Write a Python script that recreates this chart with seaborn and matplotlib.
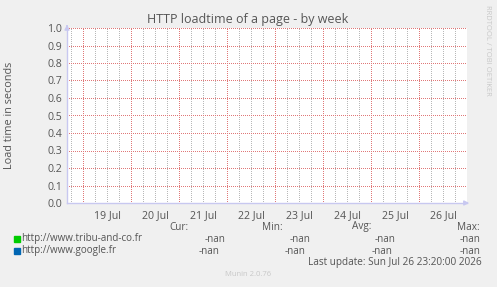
import numpy as np
import pandas as pd
import matplotlib
matplotlib.use("Agg")
import matplotlib.pyplot as plt
from matplotlib.ticker import FuncFormatter, MultipleLocator, FixedLocator
import seaborn as sns

# ---- data (all values are NaN in the reference) ----
start = pd.Timestamp("2026-07-18 16:00")
end = pd.Timestamp("2026-07-27 00:00")
times = pd.date_range(start, end, freq="30min")
series_names = ["http://www.tribu-and-co.fr", "http://www.google.fr"]
series_colors = ["#00cc00", "#0066b3"]
tribu_values = [np.nan] * len(times)
google_values = [np.nan] * len(times)
stats_headers = ["Cur:", "Min:", "Avg:", "Max:"]
tribu_stats = ["-nan", "-nan", "-nan", "-nan"]
google_stats = ["-nan", "-nan", "-nan", "-nan"]

hours = [(t - start) / pd.Timedelta(hours=1) for t in times]
df = pd.DataFrame({
    "hours": hours * 2,
    "value": tribu_values + google_values,
    "series": [series_names[0]] * len(times) + [series_names[1]] * len(times),
})

sns.set_style("white")
plt.rcParams["font.family"] = ["Open Sans", "DejaVu Sans"]

W, H = 497, 287
fig = plt.figure(figsize=(W / 100, H / 100), dpi=100, facecolor="#f0f0f0")
ax = fig.add_axes([67 / W, (H - 203) / H, 400 / W, 175 / H])
ax.set_facecolor("white")

txt = "#555555"
red_grid = "#e07878"
gray_grid = "#b8b8b8"
px = 0.72  # one pixel in points

sns.lineplot(data=df.dropna(), x="hours", y="value", hue="series",
             hue_order=series_names, palette=series_colors, ax=ax, legend=False)

total_h = (end - start) / pd.Timedelta(hours=1)
ax.set_xlim(0, total_h)
ax.set_ylim(0, 1.0)
ax.set_xlabel("")
ax.set_ylabel("")

# y axis
ax.yaxis.set_major_locator(MultipleLocator(0.1))
ax.yaxis.set_major_formatter(FuncFormatter(lambda v, p: f"{v:.1f}"))
ax.tick_params(axis="y", which="major", length=3, width=0.8, color="#e09090",
               labelsize=7.6, labelcolor=txt, pad=2, direction="inout")

# x axis: day boundaries (major, red) and 6-hour steps (minor, gray)
def to_h(ts):
    return [(t - start) / pd.Timedelta(hours=1) for t in ts]
day_ticks = pd.date_range("2026-07-19", "2026-07-27", freq="D")
quarter_ticks = [t for t in pd.date_range("2026-07-18 18:00", end, freq="6h") if t.hour != 0]
ax.xaxis.set_major_locator(FixedLocator(to_h(day_ticks)))
ax.xaxis.set_major_formatter(FuncFormatter(lambda v, p: ""))
ax.xaxis.set_minor_locator(FixedLocator(to_h(quarter_ticks)))
def minor_fmt(v, p):
    t = start + pd.Timedelta(hours=v)
    return f"{t.day} Jul" if t.hour == 12 else ""
ax.xaxis.set_minor_formatter(FuncFormatter(minor_fmt))
ax.tick_params(axis="x", which="major", length=3, width=0.8, color="#e09090", direction="inout")
ax.tick_params(axis="x", which="minor", length=2, width=0.6, color=gray_grid,
               labelsize=7.6, labelcolor=txt, pad=4, direction="inout")

ax.grid(True, axis="x", which="minor", color=gray_grid, linestyle=(0, (1, 2)),
        linewidth=px, antialiased=False)
ax.grid(True, axis="x", which="major", color=red_grid, linestyle=(0, (1, 2)),
        linewidth=px, antialiased=False)
ax.grid(True, axis="y", which="major", color=red_grid, linestyle=(0, (1, 2)),
        linewidth=px, antialiased=False)
ax.set_axisbelow(True)

for s in ["top", "right"]:
    ax.spines[s].set_visible(False)
for s in ["left", "bottom"]:
    ax.spines[s].set_color("#c8c8f0")
    ax.spines[s].set_linewidth(1.0)

# axis arrows
ax.annotate("", xy=(1.0125, 0), xytext=(0.99, 0), xycoords="axes fraction",
            arrowprops=dict(arrowstyle="-|>", color="#c8c8f0", lw=1.0, mutation_scale=7))
ax.annotate("", xy=(0, 1.035), xytext=(0, 0.99), xycoords="axes fraction",
            arrowprops=dict(arrowstyle="-|>", color="#c8c8f0", lw=1.0, mutation_scale=7))

def ft(x, y, s, **kw):
    fig.text(x / W, 1 - y / H, s, **kw)

ft(248, 20, "HTTP loadtime of a page - by week", ha="center", va="center", fontsize=9, color=txt)
ft(10, 115, "Load time in seconds", ha="center", va="center", rotation=90, fontsize=7.8, color=txt)
ft(488, 50, "RRDTOOL / TOBI OETIKER", ha="center", va="center", rotation=270, fontsize=5.5, color="#c8c8c8")

# legend block
hdr_x = [188, 283, 371, 480]
for hx, h in zip(hdr_x, stats_headers):
    ft(hx, 227, h, ha="right", va="center", fontsize=7.2, color=txt)

rows = [(239, tribu_stats, [225, 310, 395, 480]), (251, google_stats, [219, 305, 392, 480])]
for (ry, stats, xs), name, col in zip(rows, series_names, series_colors):
    fig.patches.append(plt.Rectangle((14 / W, 1 - (ry + 3) / H), 6 / W, 6 / H,
                                     transform=fig.transFigure, color=col))
    ft(21, ry, name, ha="left", va="center", fontsize=7.1, color=txt)
    for sx, sv in zip(xs, stats):
        ft(sx, ry, sv, ha="right", va="center", fontsize=7.1, color=txt)

ft(482, 263, "Last update: Sun Jul 26 23:20:00 2026", ha="right", va="center", fontsize=7.2, color=txt)
ft(248, 275, "Munin 2.0.76", ha="center", va="center", fontsize=5.5, color="#c8c8c8")

fig.savefig("out.png", dpi=100, facecolor=fig.get_facecolor())
